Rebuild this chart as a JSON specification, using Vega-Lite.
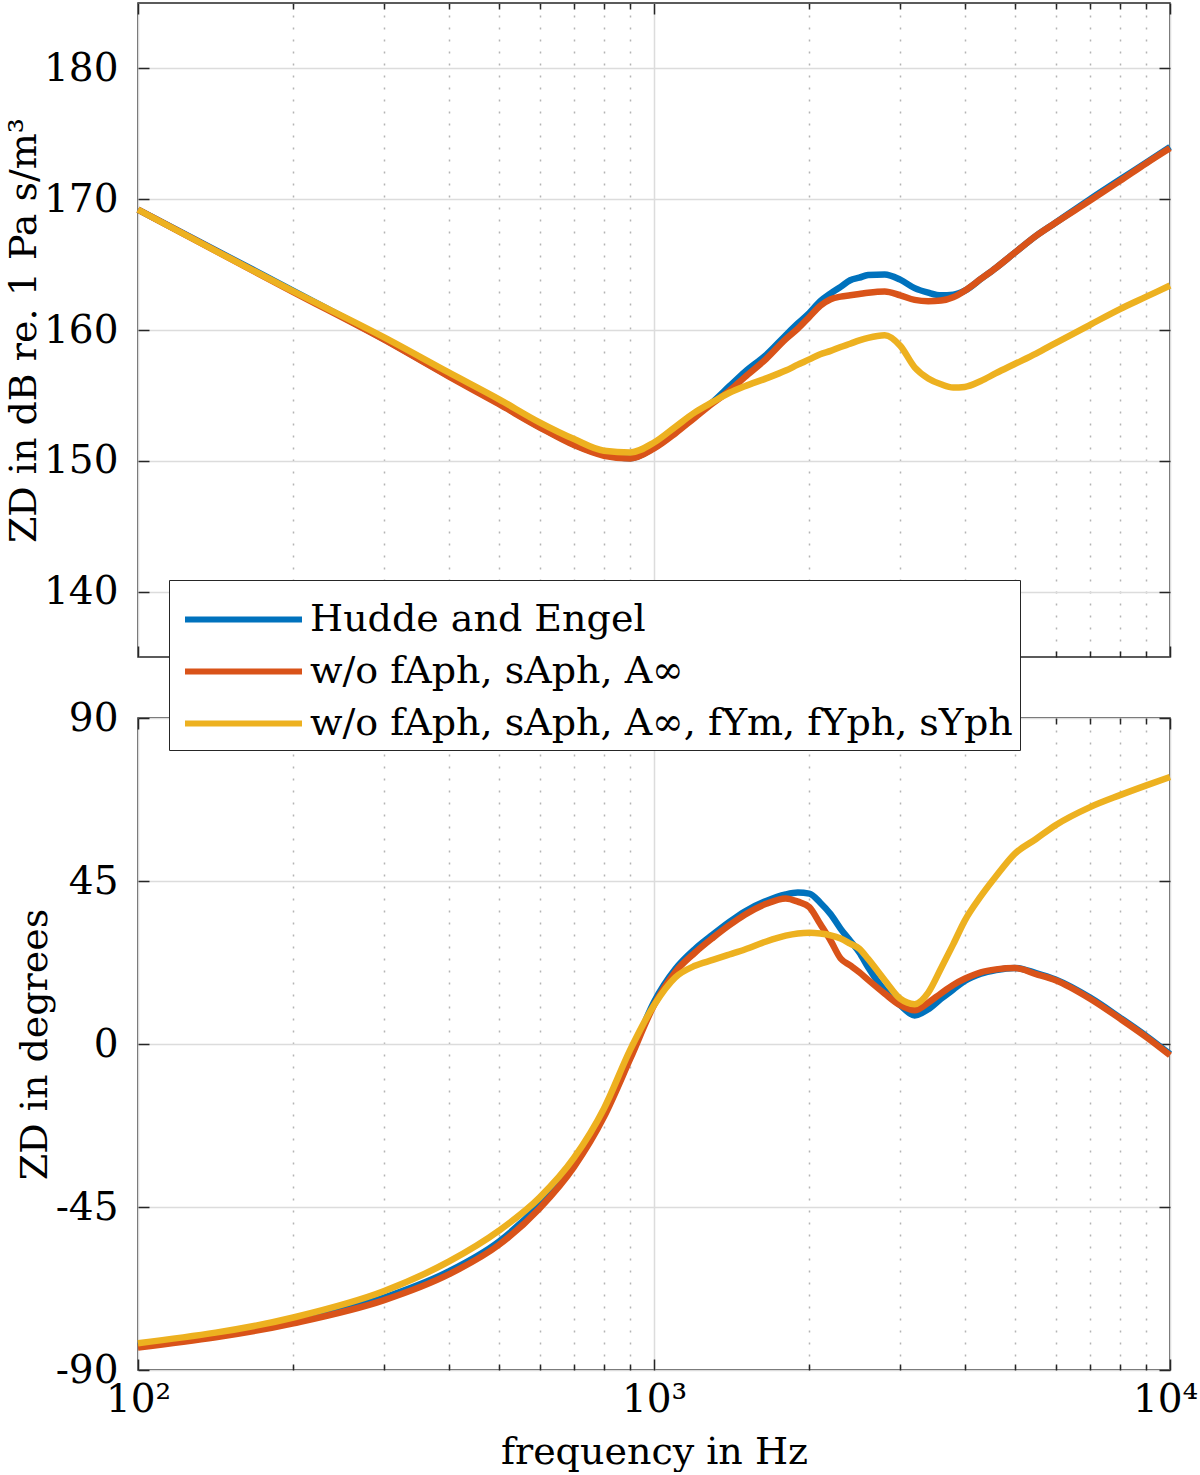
{
  "$schema": "https://vega.github.io/schema/vega-lite/v6.json",
  "description": "Drum impedance magnitude and phase, three model variants",
  "background": "white",
  "padding": {"left": 4, "top": 1, "right": 0, "bottom": 0},
  "config": {
    "font": "DejaVu Serif",
    "view": {"stroke": "#262626", "strokeWidth": 1.5},
    "axis": {
      "domain": false,
      "labelColor": "#000",
      "titleColor": "#000",
      "labelFontSize": 39,
      "titleFontSize": 38,
      "titleFontWeight": "normal",
      "tickColor": "#262626",
      "tickWidth": 1.5
    }
  },
  "data": {
    "values": [
      {"s": "Hudde and Engel", "f": 100, "m": 169.2, "p": -83.5},
      {"s": "Hudde and Engel", "f": 200, "m": 163.0, "p": -76.7},
      {"s": "Hudde and Engel", "f": 300, "m": 159.3, "p": -70.0},
      {"s": "Hudde and Engel", "f": 400, "m": 156.5, "p": -62.8},
      {"s": "Hudde and Engel", "f": 500, "m": 154.4, "p": -54.6},
      {"s": "Hudde and Engel", "f": 600, "m": 152.6, "p": -44.4},
      {"s": "Hudde and Engel", "f": 700, "m": 151.25, "p": -33.2},
      {"s": "Hudde and Engel", "f": 800, "m": 150.45, "p": -19.5},
      {"s": "Hudde and Engel", "f": 900, "m": 150.2, "p": -3.5},
      {"s": "Hudde and Engel", "f": 1000, "m": 151.0, "p": 11.6},
      {"s": "Hudde and Engel", "f": 1100, "m": 152.2, "p": 20.7},
      {"s": "Hudde and Engel", "f": 1200, "m": 153.4, "p": 26.2},
      {"s": "Hudde and Engel", "f": 1300, "m": 154.5, "p": 30.2},
      {"s": "Hudde and Engel", "f": 1400, "m": 155.7, "p": 33.7},
      {"s": "Hudde and Engel", "f": 1500, "m": 156.8, "p": 36.6},
      {"s": "Hudde and Engel", "f": 1650, "m": 158.1, "p": 39.5},
      {"s": "Hudde and Engel", "f": 1800, "m": 159.6, "p": 41.3},
      {"s": "Hudde and Engel", "f": 1900, "m": 160.5, "p": 41.8},
      {"s": "Hudde and Engel", "f": 2000, "m": 161.3, "p": 41.5},
      {"s": "Hudde and Engel", "f": 2100, "m": 162.2, "p": 39.0},
      {"s": "Hudde and Engel", "f": 2200, "m": 162.8, "p": 35.8},
      {"s": "Hudde and Engel", "f": 2300, "m": 163.3, "p": 31.8},
      {"s": "Hudde and Engel", "f": 2400, "m": 163.8, "p": 28.5},
      {"s": "Hudde and Engel", "f": 2500, "m": 164.0, "p": 25.3},
      {"s": "Hudde and Engel", "f": 2600, "m": 164.2, "p": 21.2},
      {"s": "Hudde and Engel", "f": 2800, "m": 164.25, "p": 14.8},
      {"s": "Hudde and Engel", "f": 3000, "m": 163.85, "p": 10.7},
      {"s": "Hudde and Engel", "f": 3200, "m": 163.2, "p": 7.9},
      {"s": "Hudde and Engel", "f": 3400, "m": 162.85, "p": 9.6},
      {"s": "Hudde and Engel", "f": 3600, "m": 162.65, "p": 12.5},
      {"s": "Hudde and Engel", "f": 3800, "m": 162.7, "p": 15.0},
      {"s": "Hudde and Engel", "f": 4000, "m": 163.0, "p": 17.4},
      {"s": "Hudde and Engel", "f": 4300, "m": 163.9, "p": 19.4},
      {"s": "Hudde and Engel", "f": 4600, "m": 164.75, "p": 20.4},
      {"s": "Hudde and Engel", "f": 5000, "m": 165.9, "p": 21.0},
      {"s": "Hudde and Engel", "f": 5500, "m": 167.2, "p": 19.6},
      {"s": "Hudde and Engel", "f": 6000, "m": 168.2, "p": 17.8},
      {"s": "Hudde and Engel", "f": 7000, "m": 170.0, "p": 12.8},
      {"s": "Hudde and Engel", "f": 8000, "m": 171.5, "p": 7.3},
      {"s": "Hudde and Engel", "f": 9000, "m": 172.8, "p": 2.2},
      {"s": "Hudde and Engel", "f": 10000, "m": 174.0, "p": -2.8},
      {"s": "w/o fAph, sAph, A∞", "f": 100, "m": 169.2, "p": -83.8},
      {"s": "w/o fAph, sAph, A∞", "f": 200, "m": 162.9, "p": -77.1},
      {"s": "w/o fAph, sAph, A∞", "f": 300, "m": 159.26, "p": -70.7},
      {"s": "w/o fAph, sAph, A∞", "f": 400, "m": 156.46, "p": -63.6},
      {"s": "w/o fAph, sAph, A∞", "f": 500, "m": 154.34, "p": -55.5},
      {"s": "w/o fAph, sAph, A∞", "f": 600, "m": 152.56, "p": -45.4},
      {"s": "w/o fAph, sAph, A∞", "f": 700, "m": 151.2, "p": -33.9},
      {"s": "w/o fAph, sAph, A∞", "f": 800, "m": 150.39, "p": -20.1},
      {"s": "w/o fAph, sAph, A∞", "f": 900, "m": 150.18, "p": -4.0},
      {"s": "w/o fAph, sAph, A∞", "f": 1000, "m": 150.94, "p": 10.7},
      {"s": "w/o fAph, sAph, A∞", "f": 1100, "m": 152.1, "p": 19.9},
      {"s": "w/o fAph, sAph, A∞", "f": 1200, "m": 153.3, "p": 25.2},
      {"s": "w/o fAph, sAph, A∞", "f": 1300, "m": 154.4, "p": 29.3},
      {"s": "w/o fAph, sAph, A∞", "f": 1400, "m": 155.35, "p": 32.8},
      {"s": "w/o fAph, sAph, A∞", "f": 1500, "m": 156.4, "p": 35.7},
      {"s": "w/o fAph, sAph, A∞", "f": 1650, "m": 157.8, "p": 38.7},
      {"s": "w/o fAph, sAph, A∞", "f": 1800, "m": 159.3, "p": 40.2},
      {"s": "w/o fAph, sAph, A∞", "f": 1900, "m": 160.1, "p": 39.3},
      {"s": "w/o fAph, sAph, A∞", "f": 2000, "m": 161.0, "p": 37.8},
      {"s": "w/o fAph, sAph, A∞", "f": 2100, "m": 161.85, "p": 33.1},
      {"s": "w/o fAph, sAph, A∞", "f": 2200, "m": 162.35, "p": 28.5},
      {"s": "w/o fAph, sAph, A∞", "f": 2300, "m": 162.55, "p": 23.6},
      {"s": "w/o fAph, sAph, A∞", "f": 2400, "m": 162.65, "p": 21.7},
      {"s": "w/o fAph, sAph, A∞", "f": 2500, "m": 162.75, "p": 19.8},
      {"s": "w/o fAph, sAph, A∞", "f": 2600, "m": 162.85, "p": 17.7},
      {"s": "w/o fAph, sAph, A∞", "f": 2800, "m": 162.95, "p": 13.9},
      {"s": "w/o fAph, sAph, A∞", "f": 3000, "m": 162.65, "p": 10.7},
      {"s": "w/o fAph, sAph, A∞", "f": 3200, "m": 162.3, "p": 9.3},
      {"s": "w/o fAph, sAph, A∞", "f": 3400, "m": 162.2, "p": 11.4},
      {"s": "w/o fAph, sAph, A∞", "f": 3600, "m": 162.25, "p": 14.0},
      {"s": "w/o fAph, sAph, A∞", "f": 3800, "m": 162.5, "p": 16.3},
      {"s": "w/o fAph, sAph, A∞", "f": 4000, "m": 163.0, "p": 18.0},
      {"s": "w/o fAph, sAph, A∞", "f": 4300, "m": 163.9, "p": 19.8},
      {"s": "w/o fAph, sAph, A∞", "f": 4600, "m": 164.75, "p": 20.6},
      {"s": "w/o fAph, sAph, A∞", "f": 5000, "m": 165.9, "p": 21.0},
      {"s": "w/o fAph, sAph, A∞", "f": 5500, "m": 167.2, "p": 19.3},
      {"s": "w/o fAph, sAph, A∞", "f": 6000, "m": 168.2, "p": 17.6},
      {"s": "w/o fAph, sAph, A∞", "f": 7000, "m": 169.9, "p": 12.5},
      {"s": "w/o fAph, sAph, A∞", "f": 8000, "m": 171.4, "p": 7.0},
      {"s": "w/o fAph, sAph, A∞", "f": 9000, "m": 172.75, "p": 1.9},
      {"s": "w/o fAph, sAph, A∞", "f": 10000, "m": 173.9, "p": -3.1},
      {"s": "w/o fAph, sAph, A∞, fYm, fYph, sYph", "f": 100, "m": 169.2, "p": -82.6},
      {"s": "w/o fAph, sAph, A∞, fYm, fYph, sYph", "f": 200, "m": 162.95, "p": -75.5},
      {"s": "w/o fAph, sAph, A∞, fYm, fYph, sYph", "f": 300, "m": 159.44, "p": -68.2},
      {"s": "w/o fAph, sAph, A∞, fYm, fYph, sYph", "f": 400, "m": 156.76, "p": -60.1},
      {"s": "w/o fAph, sAph, A∞, fYm, fYph, sYph", "f": 500, "m": 154.72, "p": -51.6},
      {"s": "w/o fAph, sAph, A∞, fYm, fYph, sYph", "f": 600, "m": 152.94, "p": -42.4},
      {"s": "w/o fAph, sAph, A∞, fYm, fYph, sYph", "f": 700, "m": 151.66, "p": -31.4},
      {"s": "w/o fAph, sAph, A∞, fYm, fYph, sYph", "f": 800, "m": 150.77, "p": -17.8},
      {"s": "w/o fAph, sAph, A∞, fYm, fYph, sYph", "f": 900, "m": 150.64, "p": -1.5},
      {"s": "w/o fAph, sAph, A∞, fYm, fYph, sYph", "f": 1000, "m": 151.4, "p": 10.7},
      {"s": "w/o fAph, sAph, A∞, fYm, fYph, sYph", "f": 1100, "m": 152.6, "p": 18.4},
      {"s": "w/o fAph, sAph, A∞, fYm, fYph, sYph", "f": 1200, "m": 153.7, "p": 21.6},
      {"s": "w/o fAph, sAph, A∞, fYm, fYph, sYph", "f": 1300, "m": 154.5, "p": 23.2},
      {"s": "w/o fAph, sAph, A∞, fYm, fYph, sYph", "f": 1400, "m": 155.2, "p": 24.7},
      {"s": "w/o fAph, sAph, A∞, fYm, fYph, sYph", "f": 1500, "m": 155.7, "p": 26.1},
      {"s": "w/o fAph, sAph, A∞, fYm, fYph, sYph", "f": 1650, "m": 156.3, "p": 28.3},
      {"s": "w/o fAph, sAph, A∞, fYm, fYph, sYph", "f": 1800, "m": 156.9, "p": 29.9},
      {"s": "w/o fAph, sAph, A∞, fYm, fYph, sYph", "f": 1900, "m": 157.35, "p": 30.5},
      {"s": "w/o fAph, sAph, A∞, fYm, fYph, sYph", "f": 2000, "m": 157.75, "p": 30.7},
      {"s": "w/o fAph, sAph, A∞, fYm, fYph, sYph", "f": 2100, "m": 158.15, "p": 30.5},
      {"s": "w/o fAph, sAph, A∞, fYm, fYph, sYph", "f": 2200, "m": 158.4, "p": 30.0},
      {"s": "w/o fAph, sAph, A∞, fYm, fYph, sYph", "f": 2300, "m": 158.7, "p": 29.1},
      {"s": "w/o fAph, sAph, A∞, fYm, fYph, sYph", "f": 2400, "m": 158.95, "p": 27.7},
      {"s": "w/o fAph, sAph, A∞, fYm, fYph, sYph", "f": 2500, "m": 159.2, "p": 26.3},
      {"s": "w/o fAph, sAph, A∞, fYm, fYph, sYph", "f": 2600, "m": 159.4, "p": 23.5},
      {"s": "w/o fAph, sAph, A∞, fYm, fYph, sYph", "f": 2800, "m": 159.6, "p": 17.6},
      {"s": "w/o fAph, sAph, A∞, fYm, fYph, sYph", "f": 3000, "m": 158.8, "p": 12.5},
      {"s": "w/o fAph, sAph, A∞, fYm, fYph, sYph", "f": 3200, "m": 157.15, "p": 11.0},
      {"s": "w/o fAph, sAph, A∞, fYm, fYph, sYph", "f": 3400, "m": 156.3, "p": 14.2},
      {"s": "w/o fAph, sAph, A∞, fYm, fYph, sYph", "f": 3600, "m": 155.85, "p": 20.9},
      {"s": "w/o fAph, sAph, A∞, fYm, fYph, sYph", "f": 3800, "m": 155.6, "p": 27.5},
      {"s": "w/o fAph, sAph, A∞, fYm, fYph, sYph", "f": 4000, "m": 155.65, "p": 34.0},
      {"s": "w/o fAph, sAph, A∞, fYm, fYph, sYph", "f": 4300, "m": 156.1, "p": 40.8},
      {"s": "w/o fAph, sAph, A∞, fYm, fYph, sYph", "f": 4600, "m": 156.7, "p": 46.3},
      {"s": "w/o fAph, sAph, A∞, fYm, fYph, sYph", "f": 5000, "m": 157.4, "p": 52.5},
      {"s": "w/o fAph, sAph, A∞, fYm, fYph, sYph", "f": 5500, "m": 158.2, "p": 56.6},
      {"s": "w/o fAph, sAph, A∞, fYm, fYph, sYph", "f": 6000, "m": 159.0, "p": 60.4},
      {"s": "w/o fAph, sAph, A∞, fYm, fYph, sYph", "f": 7000, "m": 160.4, "p": 65.4},
      {"s": "w/o fAph, sAph, A∞, fYm, fYph, sYph", "f": 8000, "m": 161.6, "p": 68.7},
      {"s": "w/o fAph, sAph, A∞, fYm, fYph, sYph", "f": 9000, "m": 162.55, "p": 71.4},
      {"s": "w/o fAph, sAph, A∞, fYm, fYph, sYph", "f": 10000, "m": 163.4, "p": 73.7}
    ]
  },
  "spacing": 61,
  "bounds": "flush",
  "vconcat": [
    {
      "width": 1032,
      "height": 654,
      "layer": [
        {
          "mark": {"type": "line", "strokeWidth": 6.5, "interpolate": "monotone"},
          "encoding": {
            "x": {
              "field": "f", "type": "quantitative",
              "scale": {"type": "log", "domain": [100, 10000], "nice": false},
              "axis": {
                "orient": "bottom", "title": null, "labels": false,
                "values": [100, 200, 300, 400, 500, 600, 700, 800, 900, 1000, 2000, 3000, 4000, 5000, 6000, 7000, 8000, 9000, 10000],
                "grid": true,
                "gridColor": {"condition": {"test": "datum.value === 100 || datum.value === 1000 || datum.value === 10000", "value": "#dcdcdc"}, "value": "#b4b4b4"},
                "gridDash": {"condition": {"test": "datum.value === 100 || datum.value === 1000 || datum.value === 10000", "value": []}, "value": [2, 10]},
                "gridWidth": 1.5,
                "tickSize": {"condition": {"test": "datum.value === 100 || datum.value === 1000 || datum.value === 10000", "value": -11}, "value": -6}
              }
            },
            "y": {
              "field": "m", "type": "quantitative",
              "scale": {"domain": [135, 185], "nice": false, "zero": false},
              "axis": {
                "values": [140, 150, 160, 170, 180],
                "grid": true, "gridColor": "#dcdcdc", "gridWidth": 1.5,
                "tickSize": -11, "labelPadding": 31,
                "title": "ZD in dB re. 1 Pa s/m³",
                "titleX": -114, "titleBaseline": "middle"
              }
            },
            "color": {
              "field": "s", "type": "nominal",
              "scale": {
                "domain": ["Hudde and Engel", "w/o fAph, sAph, A∞", "w/o fAph, sAph, A∞, fYm, fYph, sYph"],
                "range": ["#0072BD", "#D95319", "#EDB120"]
              },
              "legend": {
                "orient": "none", "legendX": 31, "legendY": 577, "title": null,
                "fillColor": "white", "strokeColor": "#262626", "padding": 7,
                "rowPadding": 0,
                "symbolType": "M-2,0H2", "symbolStrokeWidth": 6, "symbolSize": 3422,
                "symbolOffset": 35,
                "labelFontSize": 38, "labelColor": "#000", "labelLimit": 0, "labelOffset": 34
              }
            }
          }
        },
        {
          "mark": {"type": "point", "opacity": 0},
          "encoding": {
            "x": {
              "datum": 100, "type": "quantitative",
              "axis": {
                "orient": "top", "title": null, "labels": false, "grid": false,
                "values": [100, 200, 300, 400, 500, 600, 700, 800, 900, 1000, 2000, 3000, 4000, 5000, 6000, 7000, 8000, 9000, 10000],
                "tickSize": {"condition": {"test": "datum.value === 100 || datum.value === 1000 || datum.value === 10000", "value": -11}, "value": -6}
              }
            },
            "y": {
              "datum": 140, "type": "quantitative",
              "axis": {"orient": "right", "title": null, "labels": false, "grid": false, "values": [140, 150, 160, 170, 180], "tickSize": -11}
            }
          }
        }
      ],
      "resolve": {"axis": {"x": "independent", "y": "independent"}}
    },
    {
      "width": 1032,
      "height": 652,
      "layer": [
        {
          "mark": {"type": "line", "strokeWidth": 6.5, "interpolate": "monotone"},
          "encoding": {
            "x": {
              "field": "f", "type": "quantitative",
              "scale": {"type": "log", "domain": [100, 10000], "nice": false},
              "axis": {
                "orient": "bottom", "title": "frequency in Hz",
                "titleY": 82, "titleBaseline": "middle",
                "values": [100, 200, 300, 400, 500, 600, 700, 800, 900, 1000, 2000, 3000, 4000, 5000, 6000, 7000, 8000, 9000, 10000],
                "labelExpr": "datum.value === 100 ? '10²' : datum.value === 1000 ? '10³' : datum.value === 10000 ? '10⁴' : ''",
                "labelFlush": false,
                "labelPadding": 21,
                "labelOffset": {"condition": {"test": "datum.value === 10000", "value": -5}, "value": 0},
                "grid": true,
                "gridColor": {"condition": {"test": "datum.value === 100 || datum.value === 1000 || datum.value === 10000", "value": "#dcdcdc"}, "value": "#b4b4b4"},
                "gridDash": {"condition": {"test": "datum.value === 100 || datum.value === 1000 || datum.value === 10000", "value": []}, "value": [2, 10]},
                "gridWidth": 1.5,
                "tickSize": {"condition": {"test": "datum.value === 100 || datum.value === 1000 || datum.value === 10000", "value": -11}, "value": -6}
              }
            },
            "y": {
              "field": "p", "type": "quantitative",
              "scale": {"domain": [-90, 90], "nice": false, "zero": false},
              "axis": {
                "values": [-90, -45, 0, 45, 90],
                "labelExpr": "'' + datum.value",
                "grid": true, "gridColor": "#dcdcdc", "gridWidth": 1.5,
                "tickSize": -11, "labelPadding": 31,
                "title": "ZD in degrees",
                "titleX": -103, "titleBaseline": "middle"
              }
            },
            "color": {
              "field": "s", "type": "nominal",
              "scale": {
                "domain": ["Hudde and Engel", "w/o fAph, sAph, A∞", "w/o fAph, sAph, A∞, fYm, fYph, sYph"],
                "range": ["#0072BD", "#D95319", "#EDB120"]
              }
            }
          }
        },
        {
          "mark": {"type": "point", "opacity": 0},
          "encoding": {
            "x": {
              "datum": 100, "type": "quantitative",
              "axis": {
                "orient": "top", "title": null, "labels": false, "grid": false,
                "values": [100, 200, 300, 400, 500, 600, 700, 800, 900, 1000, 2000, 3000, 4000, 5000, 6000, 7000, 8000, 9000, 10000],
                "tickSize": {"condition": {"test": "datum.value === 100 || datum.value === 1000 || datum.value === 10000", "value": -11}, "value": -6}
              }
            },
            "y": {
              "datum": -90, "type": "quantitative",
              "axis": {"orient": "right", "title": null, "labels": false, "grid": false, "values": [-90, -45, 0, 45, 90], "tickSize": -11}
            }
          }
        }
      ],
      "resolve": {"axis": {"x": "independent", "y": "independent"}}
    }
  ]
}
